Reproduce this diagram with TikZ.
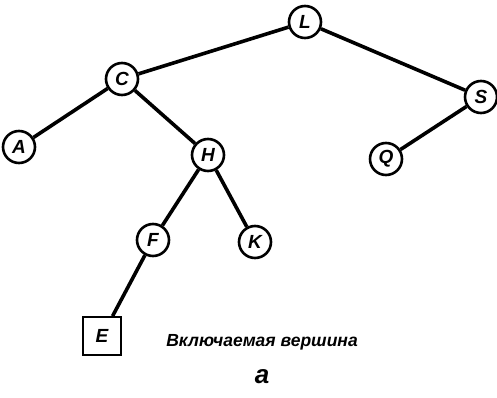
\documentclass[tikz,border=0pt]{standalone}
\usepackage{fontspec}
\setmainfont{Liberation Sans}
\begin{document}
\begin{tikzpicture}[x=1pt,y=-1pt,
  vertex/.style={circle,draw,line width=2.6pt,minimum size=32pt,inner sep=0pt,
    font=\fontsize{19}{19}\selectfont\bfseries\itshape},
  leaf/.style={rectangle,draw,line width=1.8pt,minimum size=38pt,inner sep=0pt,
    font=\fontsize{19}{19}\selectfont\bfseries\itshape},
  edge/.style={line width=3.6pt},
  caption/.style={font=\fontsize{17.5}{17.5}\selectfont\bfseries\itshape}]
\useasboundingbox (0,0) rectangle (497,398);
\node[vertex] (L) at (305,22) {L};
\node[vertex] (C) at (122,79) {C};
\node[vertex] (S) at (481,97) {S};
\node[vertex] (A) at (19,147) {A};
\node[vertex] (H) at (208,155) {H};
\node[vertex] (Q) at (386,159) {Q};
\node[vertex] (F) at (153,240) {F};
\node[vertex] (K) at (255,242) {K};
\node[leaf] (E) at (102,336) {E};
\draw[edge] (L) -- (C);
\draw[edge] (L) -- (S);
\draw[edge] (C) -- (A);
\draw[edge] (C) -- (H);
\draw[edge] (S) -- (Q);
\draw[edge] (H) -- (F);
\draw[edge] (H) -- (K);
\draw[edge] (F) -- (E);
\node[caption] (cap) at (262,342) {Включаемая вершина};
\node[caption,font=\fontsize{26}{26}\selectfont\bfseries\itshape] (lbl) at (262,377) {а};
\end{tikzpicture}
\end{document}
